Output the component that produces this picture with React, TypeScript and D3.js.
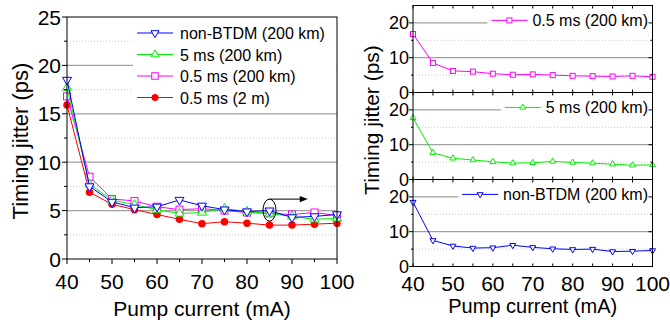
import { useEffect, useRef } from "react";
import * as d3 from "d3";

// pump current (mA)
const current = [40, 45, 50, 55, 60, 65, 70, 75, 80, 85, 90, 95, 100];

// timing jitter (ps)
const nonBtdm200km = [18.5, 7.5, 5.9, 5.3, 5.4, 6.1, 5.5, 5.1, 4.9, 5.0, 4.3, 4.4, 4.6];
const ms5_200km = [17.7, 7.7, 6.1, 5.6, 5.1, 4.7, 4.8, 5.2, 4.9, 4.7, 4.4, 4.1, 4.2];
const ms05_200km = [16.8, 8.5, 6.2, 6.0, 5.4, 5.1, 5.2, 5.0, 4.8, 4.7, 4.6, 4.8, 4.5];
const ms05_2m = [15.9, 6.9, 5.65, 5.1, 4.6, 4.1, 3.65, 3.85, 3.7, 3.5, 3.5, 3.6, 3.7];

const seriesNames = ["non-BTDM (200 km)", "5 ms (200 km)", "0.5 ms (200 km)", "0.5 ms (2 m)"];
const seriesValues = [nonBtdm200km, ms5_200km, ms05_200km, ms05_2m];

const xTickValues = [40, 45, 50, 55, 60, 65, 70, 75, 80, 85, 90, 95, 100];
const xTickLabels = [40, 50, 60, 70, 80, 90, 100];
const leftYTicks = [0, 5, 10, 15, 20, 25];
const leftYMinor = [2.5, 7.5, 12.5, 17.5, 22.5];
const rightYTicks = [0, 10, 20];
const rightYMinor = [5, 15];

const colors = ["#0000ff", "#00f000", "#ff00ff", "#ff0000"];
const shapes = ["down", "up", "square", "circle"];

const FONT = "'Liberation Sans', Arial, sans-serif";

function marker(g: any, shape: string, cx: number, cy: number, s: number, color: string) {
  if (shape === "circle") {
    g.append("circle").attr("cx", cx).attr("cy", cy).attr("r", s / 2).attr("fill", color);
  } else if (shape === "square") {
    g.append("rect")
      .attr("x", cx - s / 2)
      .attr("y", cy - s / 2)
      .attr("width", s)
      .attr("height", s)
      .attr("fill", "#fff")
      .attr("stroke", color)
      .attr("stroke-width", 1);
  } else {
    const d = d3.symbol(d3.symbolTriangle, s * s * 0.433)();
    g.append("path")
      .attr("d", d)
      .attr("transform", `translate(${cx},${cy})${shape === "down" ? " rotate(180)" : ""}`)
      .attr("fill", "#fff")
      .attr("stroke", color)
      .attr("stroke-width", 1);
  }
}

const App = () => {
  const svgRef = useRef<SVGSVGElement>(null);

  useEffect(() => {
    const svg = d3.select(svgRef.current);
    svg.selectAll("*").remove();

    // ---------- left panel ----------
    const x = d3.scaleLinear().domain([40, 100]).range([67, 337]);
    const y = d3.scaleLinear().domain([0, 25]).range([259, 17]);
    const left = svg.append("g");

    leftYMinor.forEach((v) => {
      left.append("line")
        .attr("x1", x(40)).attr("x2", x(100))
        .attr("y1", y(v)).attr("y2", y(v))
        .attr("stroke", "#c8c8c8").attr("stroke-dasharray", "1,2");
    });
    leftYTicks.slice(1, -1).forEach((v) => {
      left.append("line")
        .attr("x1", x(40)).attr("x2", x(100))
        .attr("y1", y(v)).attr("y2", y(v))
        .attr("stroke", "#a0a0a0").attr("stroke-width", 1.3);
    });

    // legend background
    left.append("rect")
      .attr("x", 133).attr("y", y(24.2))
      .attr("width", x(100) - 133 - 0.5).attr("height", y(16) - y(24.2))
      .attr("fill", "#fff");

    const line = d3.line<number>()
      .x((_, i) => x(current[i]))
      .y((d) => y(d));

    [3, 2, 1, 0].forEach((k) => {
      left.append("path")
        .attr("d", line(seriesValues[k]))
        .attr("fill", "none")
        .attr("stroke", colors[k])
        .attr("stroke-width", 1);
      const size = shapes[k] === "circle" ? 7.5 : shapes[k] === "square" ? 7 : 9;
      seriesValues[k].forEach((v, i) => marker(left, shapes[k], x(current[i]), y(v), size, colors[k]));
    });

    // legend
    seriesNames.forEach((name, k) => {
      const ly = 33 + k * 21.5;
      left.append("line")
        .attr("x1", 137).attr("x2", 173)
        .attr("y1", ly).attr("y2", ly)
        .attr("stroke", colors[k]);
      const size = shapes[k] === "circle" ? 7 : shapes[k] === "square" ? 6.5 : 8;
      marker(left, shapes[k], 155, ly, size, colors[k]);
      left.append("text")
        .attr("x", 180).attr("y", ly + 6)
        .attr("font-family", FONT).attr("font-size", 16)
        .text(name);
    });

    // annotation: ellipse + arrow
    const ex = x(85), ey = y(5.05);
    left.append("ellipse")
      .attr("cx", ex).attr("cy", ey).attr("rx", 6.5).attr("ry", 11)
      .attr("fill", "none").attr("stroke", "#000").attr("stroke-width", 1);
    left.append("line")
      .attr("x1", ex).attr("x2", x(92.2))
      .attr("y1", ey - 11).attr("y2", ey - 11)
      .attr("stroke", "#000").attr("stroke-width", 1);
    left.append("path")
      .attr("d", `M${x(93.5)},${ey - 11} l-8,-3.2 l0,6.4 Z`)
      .attr("fill", "#000");

    // frame
    left.append("rect")
      .attr("x", x(40)).attr("y", y(25))
      .attr("width", x(100) - x(40)).attr("height", y(0) - y(25))
      .attr("fill", "none").attr("stroke", "#000").attr("stroke-width", 1);

    // ticks
    xTickValues.forEach((v) => {
      const len = v % 10 === 0 ? 5 : 3;
      left.append("line")
        .attr("x1", x(v)).attr("x2", x(v))
        .attr("y1", y(0)).attr("y2", y(0) + len)
        .attr("stroke", "#000");
    });
    [...leftYTicks, ...leftYMinor].forEach((v) => {
      const len = v % 5 === 0 ? 5 : 3;
      left.append("line")
        .attr("x1", x(40) - len).attr("x2", x(40))
        .attr("y1", y(v)).attr("y2", y(v))
        .attr("stroke", "#000");
    });
    xTickLabels.forEach((v) => {
      left.append("text")
        .attr("x", x(v)).attr("y", 288.5)
        .attr("text-anchor", "middle")
        .attr("font-family", FONT).attr("font-size", 21)
        .text(v);
    });
    leftYTicks.forEach((v) => {
      left.append("text")
        .attr("x", 61).attr("y", y(v) + 7.5)
        .attr("text-anchor", "end")
        .attr("font-family", FONT).attr("font-size", 21)
        .text(v);
    });
    left.append("text")
      .attr("x", (x(40) + x(100)) / 2).attr("y", 316)
      .attr("text-anchor", "middle")
      .attr("font-family", FONT).attr("font-size", 21)
      .text("Pump current (mA)");
    left.append("text")
      .attr("transform", `translate(28,${(y(0) + y(25)) / 2 + 3}) rotate(-90)`)
      .attr("text-anchor", "middle")
      .attr("font-family", FONT).attr("font-size", 22)
      .text("Timing jitter (ps)");

    // ---------- right panels ----------
    const xr = d3.scaleLinear().domain([40, 100]).range([413, 652.5]);
    const bottoms = [92.5, 179.5, 266.5];
    const panelSeries = [2, 1, 0];
    const right = svg.append("g");

    panelSeries.forEach((k, p) => {
      const yr = d3.scaleLinear().domain([0, 25]).range([bottoms[p], bottoms[p] - 87]);
      const g = right.append("g");

      rightYMinor.forEach((v) => {
        g.append("line")
          .attr("x1", xr(40)).attr("x2", xr(100))
          .attr("y1", yr(v)).attr("y2", yr(v))
          .attr("stroke", "#c8c8c8").attr("stroke-dasharray", "1,2");
      });
      [10, 20].forEach((v) => {
        g.append("line")
          .attr("x1", xr(40)).attr("x2", xr(100))
          .attr("y1", yr(v)).attr("y2", yr(v))
          .attr("stroke", "#a0a0a0").attr("stroke-width", 1.3);
      });

      // legend with white box
      const ly = yr(20) - 2.5;
      const txt = g.append("text")
        .attr("x", 648).attr("y", ly + 6)
        .attr("text-anchor", "end")
        .attr("font-family", FONT).attr("font-size", 16)
        .text(seriesNames[k]);
      const tw = (txt.node() as SVGTextElement).getComputedTextLength();
      const tx = 648 - tw;
      g.insert("rect", "text")
        .attr("x", tx - 45).attr("y", ly - 10)
        .attr("width", xr(100) - (tx - 45) - 0.5).attr("height", 18)
        .attr("fill", "#fff");
      g.append("line")
        .attr("x1", tx - 41).attr("x2", tx - 5)
        .attr("y1", ly).attr("y2", ly)
        .attr("stroke", colors[k]);
      marker(g, shapes[k], tx - 23, ly, shapes[k] === "square" ? 5 : 6, colors[k]);

      const lr = d3.line<number>()
        .x((_, i) => xr(current[i]))
        .y((d) => yr(d));
      g.append("path")
        .attr("d", lr(seriesValues[k]))
        .attr("fill", "none")
        .attr("stroke", colors[k])
        .attr("stroke-width", 1);
      seriesValues[k].forEach((v, i) =>
        marker(g, shapes[k], xr(current[i]), yr(v), shapes[k] === "square" ? 5 : 6, colors[k])
      );

      g.append("rect")
        .attr("x", xr(40)).attr("y", yr(25))
        .attr("width", xr(100) - xr(40)).attr("height", yr(0) - yr(25))
        .attr("fill", "none").attr("stroke", "#000").attr("stroke-width", 1);

      xTickValues.forEach((v) => {
        g.append("line")
          .attr("x1", xr(v)).attr("x2", xr(v))
          .attr("y1", yr(0)).attr("y2", yr(0) - 3)
          .attr("stroke", "#000");
        g.append("line")
          .attr("x1", xr(v)).attr("x2", xr(v))
          .attr("y1", yr(25)).attr("y2", yr(25) + 3)
          .attr("stroke", "#000");
      });
      [...rightYTicks, ...rightYMinor].forEach((v) => {
        const len = v % 10 === 0 ? 4 : 2;
        g.append("line")
          .attr("x1", xr(40) - len).attr("x2", xr(40))
          .attr("y1", yr(v)).attr("y2", yr(v))
          .attr("stroke", "#000");
        g.append("line")
          .attr("x1", xr(100) - len).attr("x2", xr(100))
          .attr("y1", yr(v)).attr("y2", yr(v))
          .attr("stroke", "#000");
      });
      rightYTicks.forEach((v) => {
        g.append("text")
          .attr("x", 409).attr("y", yr(v) + 6.5)
          .attr("text-anchor", "end")
          .attr("font-family", FONT).attr("font-size", 18)
          .text(v);
      });
    });

    xTickLabels.forEach((v) => {
      right.append("text")
        .attr("x", xr(v)).attr("y", 290.5)
        .attr("text-anchor", "middle")
        .attr("font-family", FONT).attr("font-size", 21)
        .text(v);
    });
    right.append("text")
      .attr("x", (xr(40) + xr(100)) / 2).attr("y", 312.5)
      .attr("text-anchor", "middle")
      .attr("font-family", FONT).attr("font-size", 20)
      .text("Pump current (mA)");
    right.append("text")
      .attr("transform", `translate(379,${(bottoms[0] - 87 + bottoms[2]) / 2 - 16}) rotate(-90)`)
      .attr("text-anchor", "middle")
      .attr("font-family", FONT).attr("font-size", 21)
      .text("Timing jitter (ps)");
  }, []);

  return (
    <div style={{ position: "absolute", left: 0, top: 0 }}>
      <svg ref={svgRef} width={670} height={324} style={{ display: "block", background: "#fff" }} />
    </div>
  );
};

export default App;
